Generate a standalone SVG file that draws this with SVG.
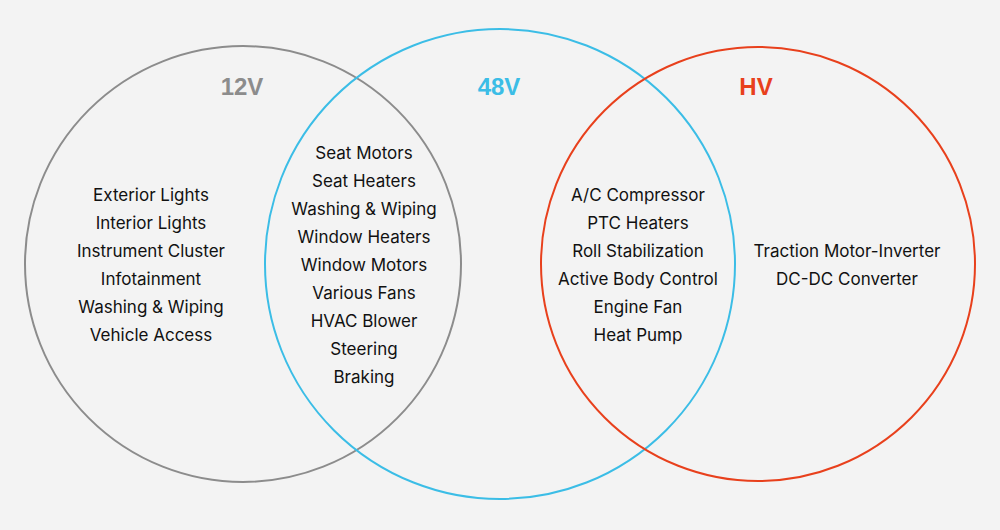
<svg xmlns="http://www.w3.org/2000/svg" width="1000" height="530" viewBox="0 0 1000 530">
<style>
.c{fill:none;stroke-width:2}
.t{font-family:Inter,"Liberation Sans",sans-serif;font-size:17px;fill:#111;text-anchor:middle;dominant-baseline:central}
.h{font-family:"Liberation Sans",Arial,sans-serif;font-size:24px;font-weight:bold;text-anchor:middle;dominant-baseline:central}
</style>
<rect width="1000" height="530" fill="#f3f3f3"/>
<g id="connectors"></g>
<g id="n12v"><circle class="c" cx="243" cy="264" r="218" stroke="#8c8c8c"/>
<text class="h" x="242" y="86" fill="#8c8c8c">12V</text></g>
<g id="n48v"><circle class="c" cx="500" cy="264" r="235" stroke="#3bbde6"/>
<text class="h" x="499" y="86" fill="#3bbde6">48V</text></g>
<g id="nhv"><circle class="c" cx="758" cy="264" r="217" stroke="#e8401c"/>
<text class="h" x="756" y="86" fill="#e8401c">HV</text></g>
<g id="list12">
<text class="t" x="151" y="195">Exterior Lights</text>
<text class="t" x="151" y="223">Interior Lights</text>
<text class="t" x="151" y="251">Instrument Cluster</text>
<text class="t" x="151" y="279">Infotainment</text>
<text class="t" x="151" y="307">Washing &amp; Wiping</text>
<text class="t" x="151" y="335">Vehicle Access</text>
</g>
<g id="list1248">
<text class="t" x="364" y="153">Seat Motors</text>
<text class="t" x="364" y="181">Seat Heaters</text>
<text class="t" x="364" y="209">Washing &amp; Wiping</text>
<text class="t" x="364" y="237">Window Heaters</text>
<text class="t" x="364" y="265">Window Motors</text>
<text class="t" x="364" y="293">Various Fans</text>
<text class="t" x="364" y="321">HVAC Blower</text>
<text class="t" x="364" y="349">Steering</text>
<text class="t" x="364" y="377">Braking</text>
</g>
<g id="list48hv">
<text class="t" x="638" y="195">A/C Compressor</text>
<text class="t" x="638" y="223">PTC Heaters</text>
<text class="t" x="638" y="251">Roll Stabilization</text>
<text class="t" x="638" y="279">Active Body Control</text>
<text class="t" x="638" y="307">Engine Fan</text>
<text class="t" x="638" y="335">Heat Pump</text>
</g>
<g id="listhv">
<text class="t" x="847" y="251">Traction Motor-Inverter</text>
<text class="t" x="847" y="279">DC-DC Converter</text>
</g>
</svg>
